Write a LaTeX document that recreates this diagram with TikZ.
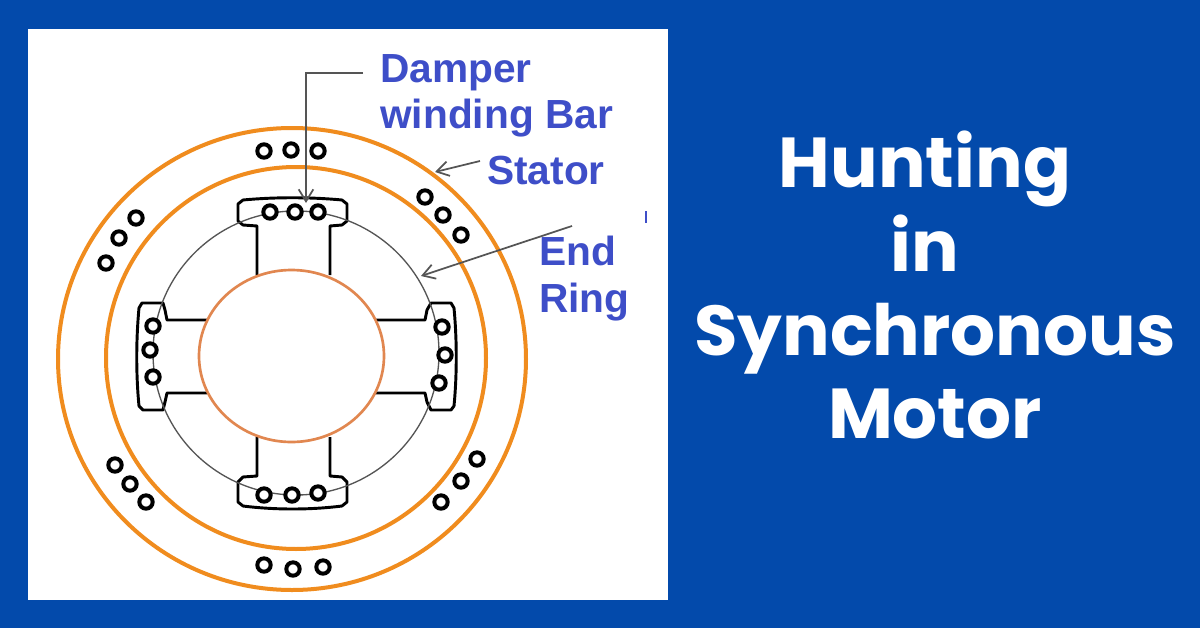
\documentclass[tikz,border=0pt]{standalone}
\usepackage{fontspec}
\setmainfont{Liberation Sans}
\newfontfamily\titlefont{Poppins}
\usetikzlibrary{arrows.meta}
\definecolor{bgblue}{RGB}{3,74,171}
\definecolor{ringorange}{RGB}{240,140,30}
\definecolor{rotororange}{RGB}{225,135,80}
\definecolor{labelblue}{RGB}{62,78,200}
\definecolor{linegrey}{RGB}{85,85,85}
\tikzset{
  barhole/.style={circle,draw=black,line width=3pt,fill=white,minimum size=10pt,inner sep=0pt},
  polebody/.style={draw=black,line width=2.2pt,line join=round,fill=white},
  statorring/.style={draw=ringorange,line width=3pt},
  labeltext/.style={font=\bfseries\fontsize{30.5}{36}\selectfont,text=labelblue,align=left,inner sep=0pt},
  titletext/.style={font=\titlefont\bfseries\fontsize{53}{65}\selectfont,text=white,align=center,inner sep=0pt},
  leader/.style={draw=linegrey,line width=1.3pt,-{Straight Barb[length=9pt,width=11pt]}}
}
\begin{document}
\begin{tikzpicture}[x=0.75pt,y=-0.75pt]
\useasboundingbox (0,0) rectangle (1200,628);
\fill[bgblue] (0,0) rectangle (1200,628);
\fill[white] (28,29) rectangle (668,600);
% stator rings
\draw[statorring] (292,359) ellipse [x radius=234,y radius=231];
\draw[statorring] (296,358) ellipse [x radius=190,y radius=191];
% poles
\draw[polebody] (257,275) -- (257,226) -- (243,225) -- (238,221) -- (238,204) -- (243,200) .. controls (275,197) and (310,197) .. (342,200) -- (347,204) -- (347,221) -- (342,225) -- (330,226) -- (330,275);
\draw[polebody] (257,437) -- (257,476) -- (243,477) -- (238,482) -- (238,502) -- (243,506) .. controls (275,510) and (310,510) .. (342,506) -- (347,502) -- (347,482) -- (342,477) -- (330,476) -- (330,437);
\draw[polebody] (207,320) -- (167,320) -- (165,310) -- (163,303) -- (142,303) -- (139,308) .. controls (136,340) and (136,375) .. (139,406) -- (143,410) -- (163,410) -- (165,402) -- (167,393) -- (207,393);
\draw[polebody] (375,320) -- (425,320) -- (427,310) -- (431,303) -- (451,303) -- (454,308) .. controls (457,340) and (457,375) .. (454,406) -- (451,410) -- (431,410) -- (427,402) -- (425,393) -- (375,393);
% end ring
\draw[draw=linegrey,line width=1pt] (296,353) ellipse [x radius=143,y radius=142];
% rotor
\draw[draw=rotororange,line width=2pt,fill=white] (291.5,356) ellipse [x radius=92.5,y radius=86];
% damper bars
\foreach \n/\x/\y in {t1/270/212,t2/295/212,t3/318/212,l1/153/326,l2/150/350,l3/153/377,r1/442/327,r2/445/355,r3/439/383,b1/264/495,b2/292/495,b3/318/493}
  \node[barhole] (\n) at (\x,\y) {};
% stator bars
\foreach \n/\x/\y in {a1/264/151,a2/291/150,a3/318/151,c1/425/197,c2/443/215,c3/461/235,d1/136/218,d2/119/238,d3/106/263,e1/115/465,e2/130/484,e3/146/502,f1/441/502,f2/461/481,f3/477/459,g1/264/565,g2/293/569,g3/323/567}
  \node[barhole] (\n) at (\x,\y) {};
% labels
\node[labeltext,anchor=base west] (damper) at (380,82) {Damper};
\node[labeltext,anchor=base west] (winding) at (380,128) {winding Bar};
\node[labeltext,anchor=base west] (stator) at (487,184) {Stator};
\node[labeltext,anchor=base west] (end) at (539,265) {End};
\node[labeltext,anchor=base west] (ring) at (539,312) {Ring};
% leaders
\coordinate (dstart) at (363,73);
\coordinate (dbend) at (306,73);
\coordinate (dtip) at (306,203);
\coordinate (sstart) at (480,161);
\coordinate (stip) at (435,172);
\coordinate (estart) at (572,226);
\coordinate (etip) at (421,276);
\draw[leader] (dstart) -- (dbend) -- (dtip);
\draw[leader] (sstart) -- (stip);
\draw[leader] (estart) -- (etip);
\draw[labelblue,line width=1.2pt] (646,211) -- (646,223);
% title
\node[titletext,anchor=base] (title1) at (925,187) {Hunting};
\node[titletext,anchor=base] (title2) at (925,271) {in};
\node[titletext,anchor=base] (title3) at (935,355) {Synchronous};
\node[titletext,anchor=base] (title4) at (935,438) {Motor};
\end{tikzpicture}
\end{document}
